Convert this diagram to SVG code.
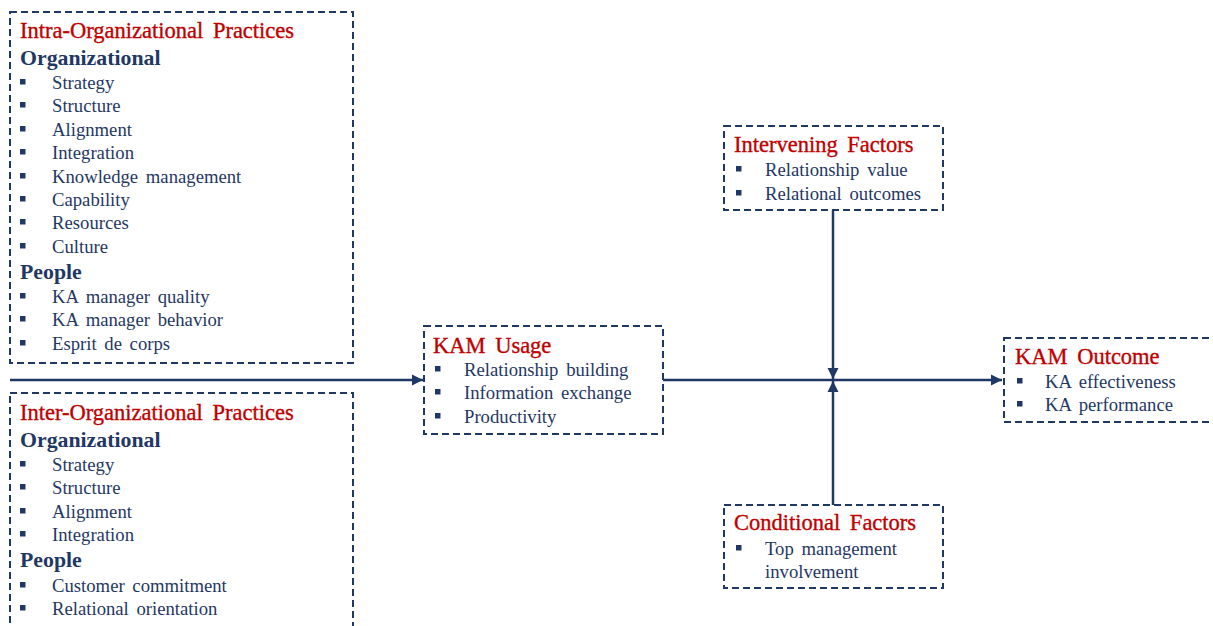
<svg xmlns="http://www.w3.org/2000/svg" width="1213" height="626" viewBox="0 0 1213 626">
<defs>
<style>
.box{fill:#fff;stroke:#1F3864;stroke-width:2;stroke-dasharray:7 4}
.t{font-family:"Liberation Serif","Times New Roman",serif;font-size:22.5px;fill:#C00000;stroke:#C00000;stroke-width:0.35;word-spacing:4px}
.h{font-family:"Liberation Serif","Times New Roman",serif;font-size:21.8px;font-weight:bold;fill:#1F3864}
.i{font-family:"Liberation Serif","Times New Roman",serif;font-size:18.7px;fill:#1F3864;word-spacing:3px}
.b{fill:#1F3864}
.ln{stroke:#1F3864;stroke-width:2.5;fill:none}
</style>
<marker id="ah" viewBox="0 0 10 10" refX="10" refY="5" markerWidth="4.5" markerHeight="4.5" orient="auto" markerUnits="strokeWidth">
<path d="M0,0 L10,5 L0,10 z" fill="#1F3864"/>
</marker>
<symbol id="sq" overflow="visible"><rect x="0" y="-10" width="5.5" height="5.5" class="b"/></symbol>
</defs>
<rect width="1213" height="626" fill="#fff"/>
<g id="connectors">
<line class="ln" x1="10" y1="380" x2="423" y2="380" marker-end="url(#ah)"/>
<line class="ln" x1="663" y1="380" x2="1002" y2="380" marker-end="url(#ah)"/>
<line class="ln" x1="833" y1="210" x2="833" y2="379" marker-end="url(#ah)"/>
<line class="ln" x1="833" y1="505" x2="833" y2="381" marker-end="url(#ah)"/>
</g>
<g id="intra">
<rect class="box" x="10" y="12" width="343" height="351"/>
<text class="t" x="20" y="38">Intra-Organizational Practices</text>
<text class="h" x="20" y="65">Organizational</text>
<g class="i">
<use href="#sq" x="20" y="89"/><text x="52" y="89">Strategy</text>
<use href="#sq" x="20" y="112"/><text x="52" y="112">Structure</text>
<use href="#sq" x="20" y="136"/><text x="52" y="136">Alignment</text>
<use href="#sq" x="20" y="159"/><text x="52" y="159">Integration</text>
<use href="#sq" x="20" y="183"/><text x="52" y="183">Knowledge management</text>
<use href="#sq" x="20" y="206"/><text x="52" y="206">Capability</text>
<use href="#sq" x="20" y="229"/><text x="52" y="229">Resources</text>
<use href="#sq" x="20" y="253"/><text x="52" y="253">Culture</text>
</g>
<text class="h" x="20" y="279">People</text>
<g class="i">
<use href="#sq" x="20" y="303"/><text x="52" y="303">KA manager quality</text>
<use href="#sq" x="20" y="326"/><text x="52" y="326">KA manager behavior</text>
<use href="#sq" x="20" y="350"/><text x="52" y="350">Esprit de corps</text>
</g>
</g>
<g id="inter">
<rect class="box" x="10" y="393" width="343" height="245"/>
<text class="t" x="20" y="420">Inter-Organizational Practices</text>
<text class="h" x="20" y="447">Organizational</text>
<g class="i">
<use href="#sq" x="20" y="471"/><text x="52" y="471">Strategy</text>
<use href="#sq" x="20" y="494"/><text x="52" y="494">Structure</text>
<use href="#sq" x="20" y="518"/><text x="52" y="518">Alignment</text>
<use href="#sq" x="20" y="541"/><text x="52" y="541">Integration</text>
</g>
<text class="h" x="20" y="567">People</text>
<g class="i">
<use href="#sq" x="20" y="592"/><text x="52" y="592">Customer commitment</text>
<use href="#sq" x="20" y="615"/><text x="52" y="615">Relational orientation</text>
</g>
</g>
<g id="usage">
<rect class="box" x="424" y="326" width="239" height="108"/>
<text class="t" x="433" y="353">KAM Usage</text>
<g class="i">
<use href="#sq" x="435" y="376"/><text x="464" y="376">Relationship building</text>
<use href="#sq" x="435" y="399"/><text x="464" y="399">Information exchange</text>
<use href="#sq" x="435" y="423"/><text x="464" y="423">Productivity</text>
</g>
</g>
<g id="intervening">
<rect class="box" x="724" y="126" width="219" height="84"/>
<text class="t" x="734" y="152">Intervening Factors</text>
<g class="i">
<use href="#sq" x="736" y="176"/><text x="765" y="176">Relationship value</text>
<use href="#sq" x="736" y="200"/><text x="765" y="200">Relational outcomes</text>
</g>
</g>
<g id="conditional">
<rect class="box" x="724" y="505" width="219" height="83"/>
<text class="t" x="734" y="530">Conditional Factors</text>
<g class="i">
<use href="#sq" x="736" y="555"/><text x="765" y="555">Top management</text>
<text x="765" y="578">involvement</text>
</g>
</g>
<g id="outcome">
<rect class="box" x="1004" y="338" width="220" height="84"/>
<text class="t" x="1015" y="364">KAM Outcome</text>
<g class="i">
<use href="#sq" x="1017" y="388"/><text x="1045" y="388">KA effectiveness</text>
<use href="#sq" x="1017" y="411"/><text x="1045" y="411">KA performance</text>
</g>
</g>
</svg>
